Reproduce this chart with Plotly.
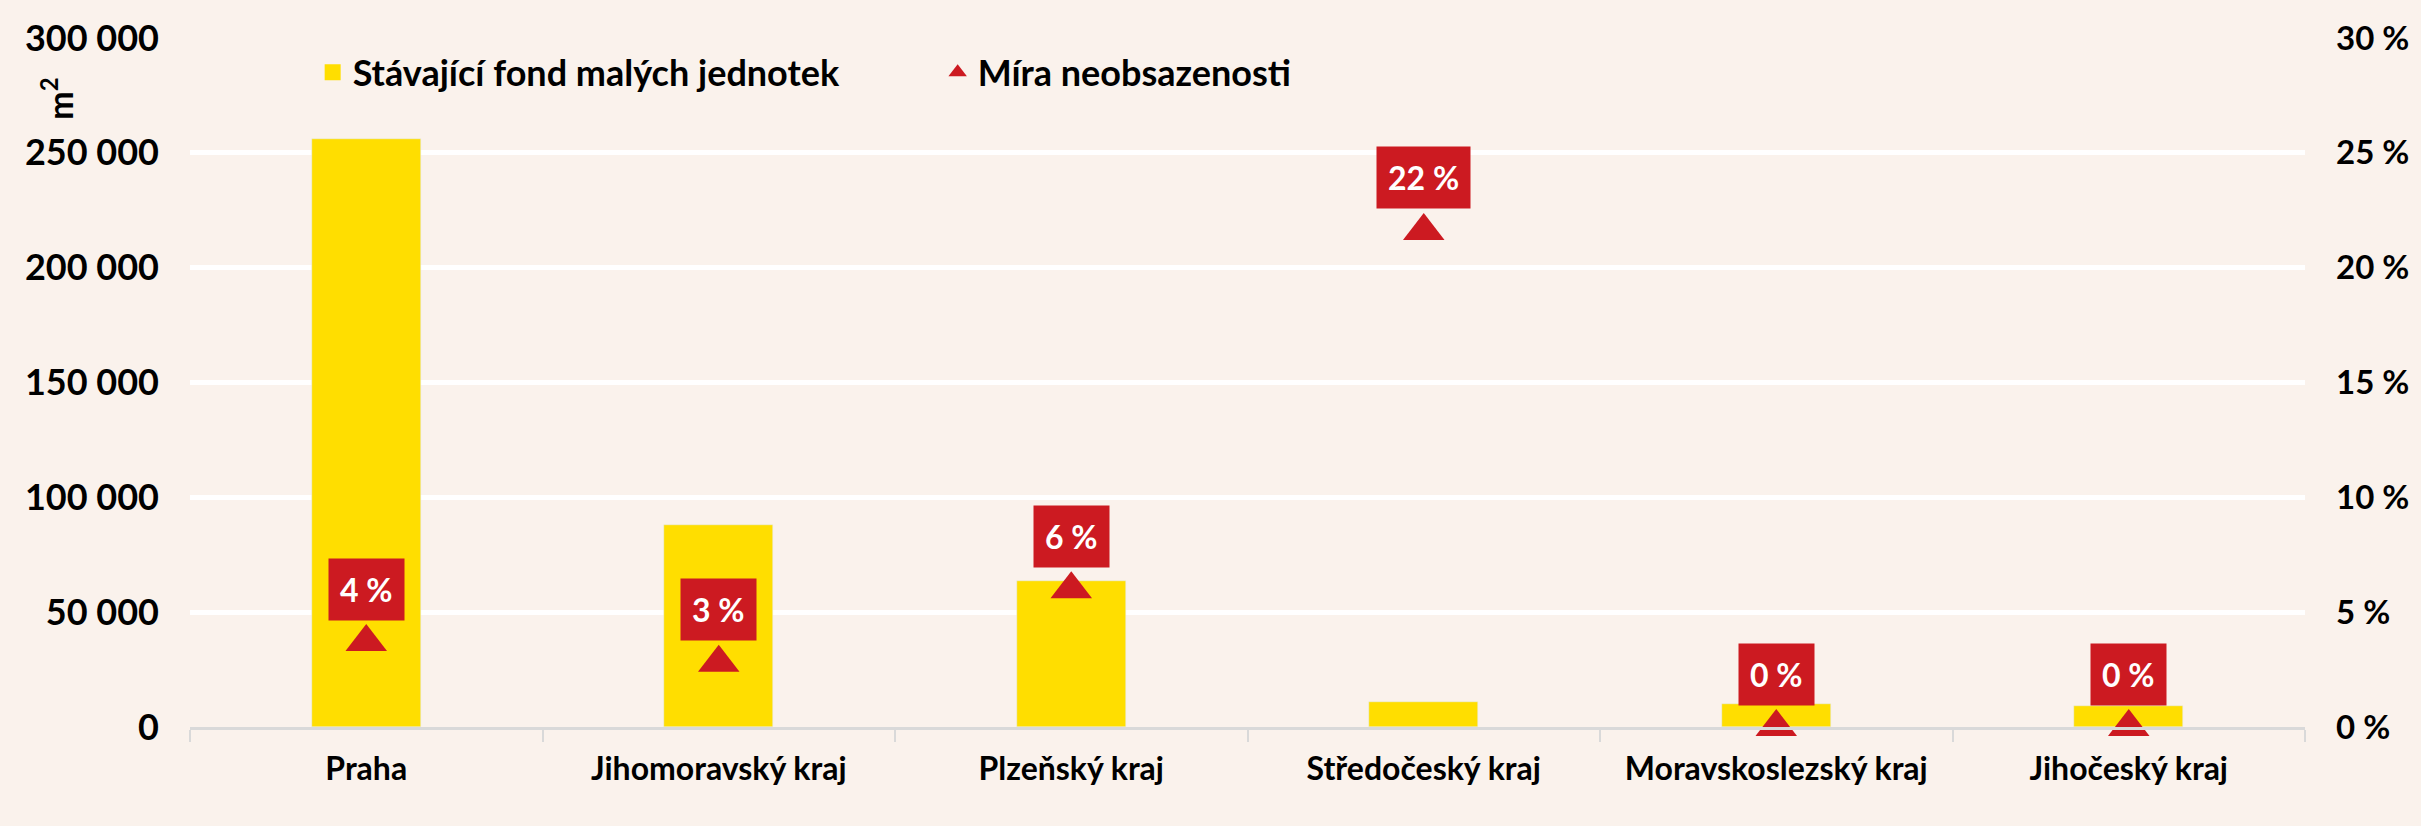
import plotly.graph_objects as go

categories = ["Praha", "Jihomoravský kraj", "Plzeňský kraj", "Středočeský kraj",
              "Moravskoslezský kraj", "Jihočeský kraj"]
stock_m2 = [256000, 88000, 63500, 10900, 9800, 9000]
vacancy_pct = [3.7, 2.8, 6.0, 21.6, 0.0, 0.0]
left_ticks = [0, 50000, 100000, 150000, 200000, 250000, 300000]
left_tick_labels = ["0", "50 000", "100 000", "150 000", "200 000", "250 000", "300 000"]
right_ticks = [0, 5, 10, 15, 20, 25, 30]
right_tick_labels = ["0 %", "5 %", "10 %", "15 %", "20 %", "25 %", "30 %"]
legend_names = ["Stávající fond malých jednotek", "Míra neobsazenosti"]

BG = "#FAF2EC"
YELLOW = "#FFDE00"
RED = "#CC1A21"
FONT = "Lato"

fig = go.Figure()
fig.add_trace(go.Bar(x=categories, y=stock_m2, marker_color=YELLOW, width=0.31,
                     showlegend=False, name=legend_names[0]))
fig.add_trace(go.Scatter(x=categories, y=vacancy_pct, yaxis="y2", mode="markers",
                         marker=dict(symbol="triangle-up", size=36, color=RED),
                         showlegend=False, name=legend_names[1], cliponaxis=False))
# legend entries
fig.add_trace(go.Scatter(x=[None], y=[None], mode="markers", name=legend_names[0],
                         marker=dict(symbol="square", size=20, color=YELLOW)))
fig.add_trace(go.Scatter(x=[None], y=[None], mode="markers", name=legend_names[1],
                         yaxis="y2",
                         marker=dict(symbol="triangle-up", size=22, color=RED)))

for c, v in zip(categories, vacancy_pct):
    fig.add_annotation(x=c, y=v, xref="x", yref="y2", yshift=53,
                       text=f"{round(v)} %", showarrow=False,
                       bgcolor=RED, borderpad=11,
                       font=dict(family=FONT, size=32, color="white", weight="bold"))

fig.add_annotation(x=-0.074, y=0.946, xref="paper", yref="paper",
                   text="m<sup>2</sup>", textangle=-90, showarrow=False,
                   font=dict(family=FONT, size=34, color="black", weight="bold"))

fig.update_layout(
    width=2421, height=826,
    paper_bgcolor=BG, plot_bgcolor=BG,
    margin=dict(l=190, r=105, t=38, b=99),
    font=dict(family=FONT, size=32, color="black", weight="bold"),
    bargap=0,
    legend=dict(orientation="h", x=0.058, y=0.95, xanchor="left", yanchor="middle",
                bgcolor="rgba(0,0,0,0)", entrywidth=580, entrywidthmode="pixels",
                font=dict(family=FONT, size=36, color="black", weight="bold")),
    xaxis=dict(showline=True, linecolor="#D9D9D9", linewidth=3,
               ticks="outside", tickson="boundaries", ticklen=12, tickcolor="#D9D9D9",
               tickwidth=2, showgrid=False, ticklabelstandoff=12,
               tickfont=dict(family=FONT, size=32, color="black", weight="bold")),
    yaxis=dict(range=[0, 300000], tickvals=left_ticks, ticktext=left_tick_labels,
               showgrid=True, gridcolor="white", gridwidth=5, zeroline=False,
               ticklabelstandoff=30,
               tickfont=dict(family=FONT, size=36, color="black", weight="bold")),
    yaxis2=dict(range=[0, 30], overlaying="y", side="right", tickvals=right_ticks,
                ticktext=right_tick_labels, showgrid=False, zeroline=False,
                ticklabelstandoff=30,
                tickfont=dict(family=FONT, size=33, color="black", weight="bold")),
)

fig.write_html("out.html")
